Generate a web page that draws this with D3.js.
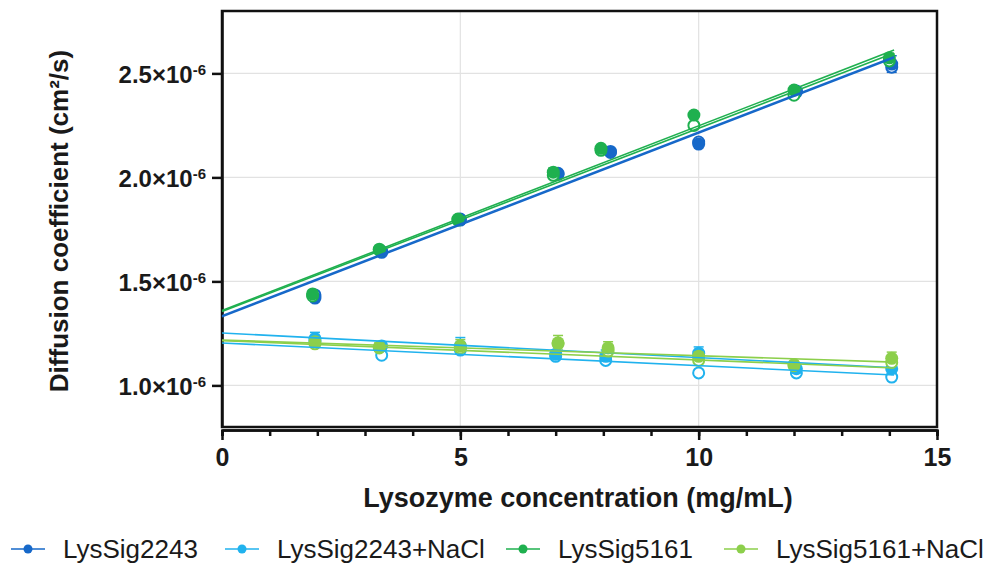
<!DOCTYPE html>
<html>
<head>
<meta charset="utf-8">
<script src="https://cdn.jsdelivr.net/npm/d3@7"></script>
<style>
  body { margin: 0; background: #fff; }
  svg { font-family: "Liberation Sans", Arial, sans-serif; }
</style>
</head>
<body>
<div id="chart"></div>
<script>
// ---- data (D in units of 1e-6 cm^2/s) ----
let seriesNames = ["LysSig2243", "LysSig2243+NaCl", "LysSig5161", "LysSig5161+NaCl"];
let seriesColors = ["#1668c9", "#20b2ee", "#1fb04f", "#8ccf4b"];

let conc_2243 = [1.95, 3.35, 5.0, 7.05, 8.15, 10.0, 12.05, 14.05];
let fill_2243 = [1.42, 1.645, 1.795, 2.015, 2.125, 2.16, 2.415, 2.545];
let open_2243 = [1.435, 1.64, 1.80, 2.02, 2.12, 2.17, 2.41, 2.53];
let err_2243 = [0.01, 0.01, 0.01, 0.01, 0.01, 0.01, 0.01, 0.04];

let conc_2243n = [1.95, 3.35, 5.0, 7.0, 8.05, 10.0, 12.05, 14.05];
let fill_2243n = [1.225, 1.19, 1.19, 1.15, 1.14, 1.155, 1.08, 1.08];
let open_2243n = [1.215, 1.145, 1.17, 1.14, 1.12, 1.06, 1.06, 1.04];
let err_2243n = [0.03, 0.02, 0.04, 0.02, 0.03, 0.03, 0.01, 0.02];

let conc_5161 = [1.9, 3.3, 4.95, 6.95, 7.95, 9.9, 12.0, 14.0];
let fill_5161 = [1.44, 1.655, 1.80, 2.025, 2.14, 2.30, 2.42, 2.575];
let open_5161 = [1.43, 1.65, 1.795, 2.01, 2.13, 2.25, 2.395, 2.56];
let err_5161 = [0.01, 0.01, 0.01, 0.02, 0.01, 0.01, 0.01, 0.02];

let conc_5161n = [1.95, 3.3, 5.0, 7.05, 8.1, 10.0, 12.0, 14.05];
let fill_5161n = [1.21, 1.185, 1.19, 1.205, 1.18, 1.14, 1.10, 1.13];
let open_5161n = [1.20, 1.18, 1.18, 1.20, 1.165, 1.12, 1.095, 1.11];
let err_5161n = [0.02, 0.02, 0.03, 0.035, 0.03, 0.02, 0.01, 0.03];

// linear fits (value at x = 0 and at x = 14.1), filled then open replicate
let fitX = [0, 14.1];
let fit_2243 = [[1.33, 2.575], [1.335, 2.58]];
let fit_2243n = [[1.252, 1.085], [1.204, 1.05]];
let fit_5161 = [[1.36, 2.612], [1.355, 2.598]];
let fit_5161n = [[1.218, 1.112], [1.215, 1.084]];

let xTicksMajor = [0, 5, 10, 15];
let xTicksMinor = d3.range(0, 16);
let yTicks = [1.0, 1.5, 2.0, 2.5];

let groups = [
    {conc: conc_2243, fill: fill_2243, open: open_2243, err: err_2243, fit: fit_2243},
    {conc: conc_2243n, fill: fill_2243n, open: open_2243n, err: err_2243n, fit: fit_2243n},
    {conc: conc_5161, fill: fill_5161, open: open_5161, err: err_5161, fit: fit_5161},
    {conc: conc_5161n, fill: fill_5161n, open: open_5161n, err: err_5161n, fit: fit_5161n}
];

// ---- layout ----
let width = 998, height = 570;
let plot = {left: 222, right: 937, top: 11, bottom: 427};

let svg = d3.select("#chart")
    .append("svg")
    .attr("width", width)
    .attr("height", height);

let x = d3.scaleLinear().domain([0, 15]).range([plot.left, plot.right]);
let y = d3.scaleLinear().domain([0.8, 2.8]).range([plot.bottom, plot.top]);

// grid
svg.append("g").selectAll("line").data(yTicks).enter().append("line")
    .attr("x1", plot.left).attr("x2", plot.right)
    .attr("y1", d => y(d)).attr("y2", d => y(d))
    .attr("stroke", "#e2e2e2").attr("stroke-width", 1.2);
svg.append("g").selectAll("line").data([5, 10]).enter().append("line")
    .attr("x1", d => x(d)).attr("x2", d => x(d))
    .attr("y1", plot.top).attr("y2", plot.bottom)
    .attr("stroke", "#e2e2e2").attr("stroke-width", 1.2);

// frame
svg.append("rect")
    .attr("x", plot.left).attr("y", plot.top)
    .attr("width", plot.right - plot.left).attr("height", plot.bottom - plot.top)
    .attr("fill", "none").attr("stroke", "#111").attr("stroke-width", 2.5);

// x axis
let xMinor = svg.append("g")
    .attr("transform", `translate(0, ${plot.bottom + 3})`)
    .call(d3.axisBottom(x).tickValues(xTicksMinor).tickSize(6).tickFormat(""));
let xMajor = svg.append("g")
    .attr("transform", `translate(0, ${plot.bottom + 3})`)
    .call(d3.axisBottom(x).tickValues(xTicksMajor).tickSize(10).tickSizeOuter(0).tickPadding(8));
[xMinor, xMajor].forEach(g => {
    g.select(".domain").attr("stroke", "#111").attr("stroke-width", 2.5);
    g.selectAll(".tick line").attr("stroke", "#111").attr("stroke-width", 2.5);
});
xMajor.selectAll(".tick text")
    .attr("fill", "#1a1a1a")
    .style("font-size", "25px").style("font-weight", "bold")
    .style("font-family", "Liberation Sans, Arial, sans-serif");

// y axis
let yAxis = svg.append("g")
    .attr("transform", `translate(${plot.left}, 0)`)
    .call(d3.axisLeft(y).tickValues(yTicks).tickSize(10).tickSizeOuter(0).tickFormat(""));
yAxis.select(".domain").attr("stroke", "#111").attr("stroke-width", 2.5);
yAxis.selectAll(".tick line").attr("stroke", "#111").attr("stroke-width", 2.5);
let yLab = yAxis.selectAll(".tick").append("text")
    .attr("x", -16).attr("dy", "0.36em")
    .attr("text-anchor", "end")
    .attr("fill", "#1a1a1a")
    .style("font-size", "24px").style("font-weight", "bold")
    .style("font-family", "Liberation Sans, Arial, sans-serif");
yLab.append("tspan").text(d => d3.format(".1f")(d) + "×10");
yLab.append("tspan").attr("dy", "-0.5em").style("font-size", "15px").text("-6");

// axis titles
svg.append("text")
    .attr("transform", `translate(68, ${(plot.top + plot.bottom) / 2 + 2}) rotate(-90)`)
    .attr("text-anchor", "middle")
    .attr("fill", "#1a1a1a")
    .style("font-size", "26px").style("font-weight", "bold")
    .text("Diffusion coefficient (cm²/s)");

svg.append("text")
    .attr("x", 578)
    .attr("y", 507)
    .attr("text-anchor", "middle")
    .attr("fill", "#1a1a1a")
    .style("font-size", "27px").style("font-weight", "bold")
    .text("Lysozyme concentration (mg/mL)");

// ---- marks ----
let marks = svg.append("g");

groups.forEach((g, i) => {
    let color = seriesColors[i];
    let gg = marks.append("g");

    // error bars
    let bars = gg.selectAll(".eb").data(g.conc).enter().append("g");
    bars.append("line")
        .attr("x1", d => x(d)).attr("x2", d => x(d))
        .attr("y1", (d, j) => y(g.fill[j] - g.err[j]))
        .attr("y2", (d, j) => y(g.fill[j] + g.err[j]))
        .attr("stroke", color).attr("stroke-width", 1.5);
    [-1, 1].forEach(s => {
        bars.append("line")
            .attr("x1", d => x(d) - 5).attr("x2", d => x(d) + 5)
            .attr("y1", (d, j) => y(g.fill[j] + s * g.err[j]))
            .attr("y2", (d, j) => y(g.fill[j] + s * g.err[j]))
            .attr("stroke", color).attr("stroke-width", 1.5);
    });

    // open replicate
    gg.selectAll(".op").data(g.conc).enter().append("circle")
        .attr("cx", d => x(d))
        .attr("cy", (d, j) => y(g.open[j]))
        .attr("r", 5.5)
        .attr("fill", "#fff").attr("stroke", color).attr("stroke-width", 2);

    // filled replicate
    gg.selectAll(".fp").data(g.conc).enter().append("circle")
        .attr("cx", d => x(d))
        .attr("cy", (d, j) => y(g.fill[j]))
        .attr("r", 6.5)
        .attr("fill", color);
});

// fit lines on top
let line = d3.line().x(d => x(d[0])).y(d => y(d[1]));
groups.forEach((g, i) => {
    g.fit.forEach(f => {
        marks.append("path")
            .attr("d", line(fitX.map((xv, k) => [xv, f[k]])))
            .attr("fill", "none")
            .attr("stroke", seriesColors[i])
            .attr("stroke-width", 1.6);
    });
});

// ---- legend ----
let legendX = [28, 242, 523, 741];
let legend = svg.append("g").attr("transform", "translate(0, 549)");
let items = legend.selectAll("g").data(seriesNames).enter().append("g")
    .attr("transform", (d, i) => `translate(${legendX[i]}, 0)`);
items.append("line")
    .attr("x1", -17).attr("x2", 17)
    .attr("stroke", (d, i) => seriesColors[i]).attr("stroke-width", 1.6);
items.append("circle")
    .attr("r", 4.5)
    .attr("fill", (d, i) => seriesColors[i]);
items.append("text")
    .attr("x", 35).attr("dy", "0.36em")
    .attr("fill", "#1a1a1a")
    .style("font-size", "26px")
    .text(d => d);
</script>
</body>
</html>
